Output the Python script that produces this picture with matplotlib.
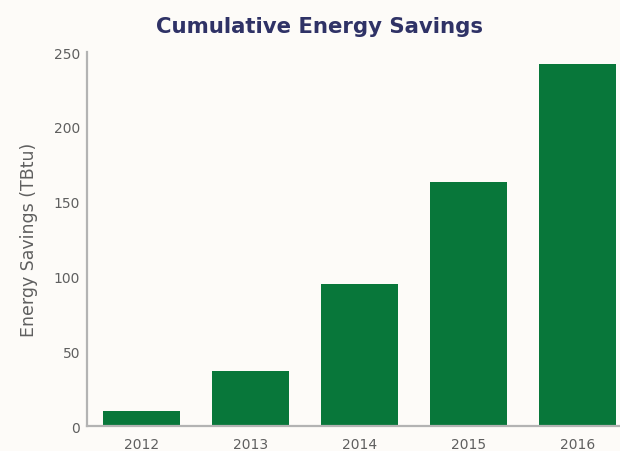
import matplotlib
matplotlib.use("Agg")
import matplotlib.pyplot as plt

years = ["2012", "2013", "2014", "2015", "2016"]
savings_tbtu = [10, 37, 95, 163, 242]
y_ticks = [0, 50, 100, 150, 200, 250]

bg = "#fdfbf8"
bar_color = "#08773a"
axis_color = "#b3b3b3"
text_gray = "#5f5f5f"
title_color = "#2f3266"

plt.rcParams["font.family"] = ["DejaVu Sans"]

fig = plt.figure(figsize=(6.2, 4.52), dpi=100, facecolor=bg)
ax = fig.add_axes([0.1403, 0.0553, 0.8597, 0.8274], facecolor=bg)

x = list(range(len(years)))
ax.bar(x, savings_tbtu, width=0.715, color=bar_color, zorder=2)

ax.set_xlim(-0.5, 4.39)
ax.set_ylim(0, 250)
ax.set_yticks(y_ticks)
ax.set_xticks(x)
ax.set_xticklabels(years)

for side in ("top", "right"):
    ax.spines[side].set_visible(False)
for side in ("left", "bottom"):
    ax.spines[side].set_color(axis_color)
    ax.spines[side].set_linewidth(1.6)

ax.tick_params(axis="both", length=0, colors=text_gray, labelsize=10)
ax.tick_params(axis="y", pad=5)
ax.tick_params(axis="x", pad=8)

ax.set_ylabel("Energy Savings (TBtu)", fontsize=12.5, color=text_gray)
ax.yaxis.set_label_coords(-0.092, 0.5)

fig.text(0.516, 0.941, "Cumulative Energy Savings", ha="center", va="center",
         fontsize=15.3, fontweight="bold", color=title_color)

fig.savefig("out.png", dpi=100, facecolor=bg)
